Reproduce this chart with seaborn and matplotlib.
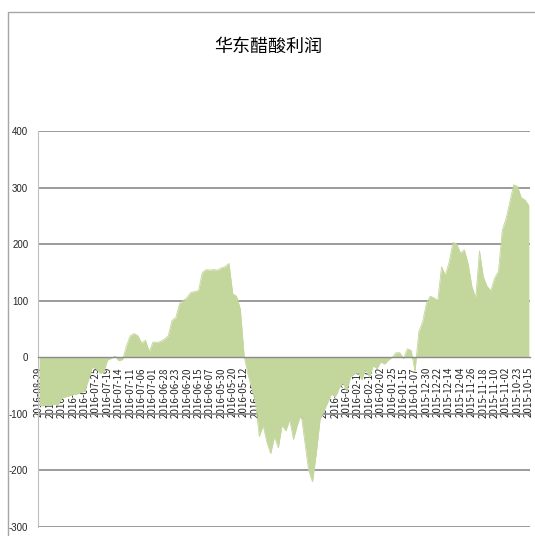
import matplotlib
matplotlib.use("Agg")
import matplotlib.pyplot as plt
from matplotlib.patches import Rectangle
import seaborn as sns
import pandas as pd
import numpy as np

# ---- data ----
title = "华东醋酸利润"
tick_dates = [
    "2016-08-29", "2016-08-19", "2016-08-12", "2016-08-08", "2016-08-01",
    "2016-07-25", "2016-07-19", "2016-07-14", "2016-07-11", "2016-07-06",
    "2016-07-01", "2016-06-28", "2016-06-23", "2016-06-20", "2016-06-15",
    "2016-06-07", "2016-05-30", "2016-05-20", "2016-05-12", "2016-05-04",
    "2016-04-26", "2016-04-18", "2016-04-08", "2016-03-31", "2016-03-23",
    "2016-03-15", "2016-03-07", "2016-02-29", "2016-02-18", "2016-02-10",
    "2016-02-02", "2016-01-25", "2016-01-15", "2016-01-07", "2015-12-30",
    "2015-12-22", "2015-12-14", "2015-12-04", "2015-11-26", "2015-11-18",
    "2015-11-10", "2015-11-02", "2015-10-23", "2015-10-15",
]
profit = [
    -85, -86, -84, -85, -83, -84, -72, -70, -68, -66,
    -65, -62, -60, -40, -18, -20, -28, -27, -5, -2,
    2, -6, -4, 20, 38, 42, 38, 25, 30, 10,
    27, 26, 28, 32, 38, 65, 70, 95, 100, 106,
    115, 116, 118, 150, 155, 154, 155, 154, 158, 160,
    166, 112, 108, 85, 2, -30, -55, -80, -140, -120,
    -150, -170, -140, -160, -120, -130, -110, -145, -120, -100,
    -150, -200, -220, -170, -110, -95, -80, -65, -70, -55,
    -45, -60, -35, -30, -25, -40, -20, -35, -15, -20,
    -8, -12, -5, 0, 8, 8, -2, 15, 12, -25,
    45, 62, 95, 108, 105, 100, 160, 145, 168, 203,
    200, 184, 190, 165, 125, 105, 188, 142, 125, 118,
    140, 152, 225, 245, 275, 305, 302, 282, 278, 268,
]
label_step = 3
y_ticks = [-300, -200, -100, 0, 100, 200, 300, 400]

df = pd.DataFrame({"idx": np.arange(len(profit)), "profit": profit})

# ---- style ----
sns.set_style("white")
plt.rcParams["font.family"] = ["Noto Sans CJK SC", "DejaVu Sans"]

fig = plt.figure(figsize=(5.35, 5.36), dpi=100)
ax = fig.add_axes([38 / 535, 1 - 527 / 536, (530 - 38) / 535, (527 - 131) / 536])

green = "#c3d69b"
ax.fill_between(df["idx"], 0, df["profit"], color=green, linewidth=0, zorder=2)
sns.lineplot(data=df, x="idx", y="profit", ax=ax, color=green, linewidth=0.6, zorder=2)

ax.set_ylim(-300, 400)
ax.set_xlim(-0.3, len(profit) - 1 + 0.3)
ax.set_yticks(y_ticks)
ax.set_yticklabels([str(v) for v in y_ticks])
for v in y_ticks:
    if v != 0:
        ax.axhline(v, color="#8a8a8a", linewidth=1.2, zorder=1)

labels = [""] * len(profit)
for k, d in enumerate(tick_dates):
    pos = k * label_step
    if pos < len(labels):
        labels[pos] = d
ax.set_xticks(range(len(profit)))
ax.set_xticklabels(labels)
ax.tick_params(axis="x", direction="out", length=5, width=0.6, color="#8a8a8a",
               pad=2, labelrotation=90, labelsize=7)
ax.tick_params(axis="y", direction="out", length=3, width=0.6, color="#8a8a8a",
               pad=4, labelsize=7)
for t in ax.get_xticklabels():
    t.set_family("DejaVu Sans")
    t.set_rotation(90)
    t.set_va("top")
    t.set_ha("center")
    t.set_color("#111111")
for t in ax.get_yticklabels():
    t.set_family("Liberation Sans")

ax.set_xlabel("")
ax.set_ylabel("")
ax.spines["bottom"].set_position(("data", 0))
ax.spines["bottom"].set_color("#8a8a8a")
ax.spines["bottom"].set_linewidth(1.0)
ax.spines["bottom"].set_zorder(3)
ax.spines["left"].set_color("#bfbfbf")
ax.spines["left"].set_linewidth(0.8)
ax.spines["top"].set_visible(False)
ax.spines["right"].set_visible(False)

fig.text(268 / 535, 1 - 47 / 536, title, ha="center", va="center",
         fontsize=13, fontweight="medium", color="black")

fig.add_artist(Rectangle((8 / 535, -0.02), 1.0, 1 - 12 / 536 + 0.02,
                         transform=fig.transFigure, fill=False,
                         edgecolor="#a6a6a6", linewidth=1.0))

fig.savefig("out.png", dpi=100)
